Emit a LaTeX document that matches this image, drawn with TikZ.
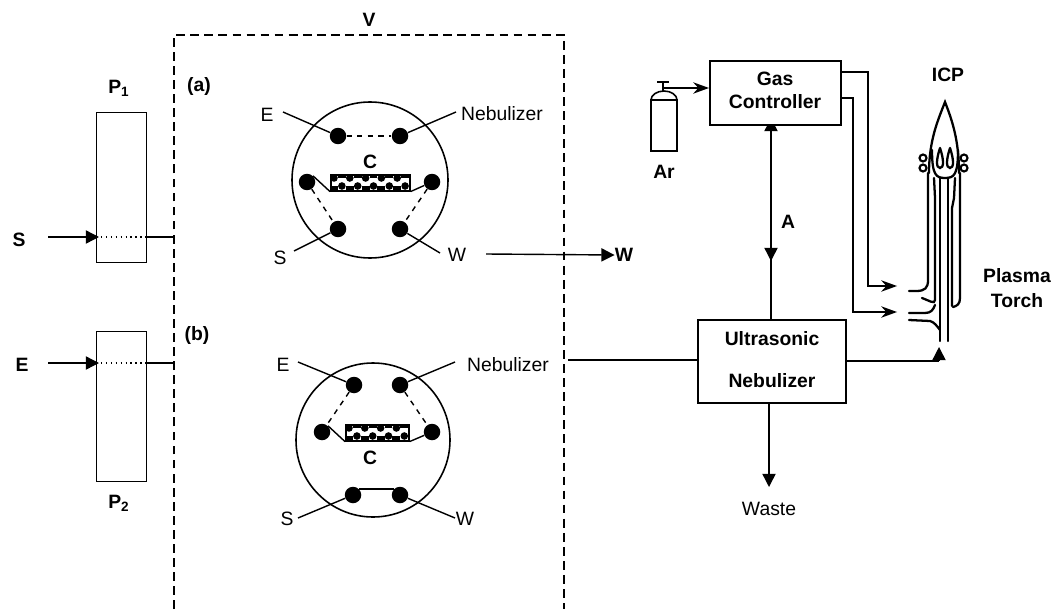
\documentclass[tikz,border=0pt]{standalone}
\usepackage{fontspec}
\setmainfont{Liberation Sans}
\usetikzlibrary{arrows.meta}
\tikzset{
  dot/.style={circle,fill=black,inner sep=0pt,minimum size=0.33cm},
  label/.style={font=\fontsize{11}{13}\selectfont,inner sep=0pt},
  boldlabel/.style={font=\fontsize{11}{13}\selectfont\bfseries,inner sep=0pt},
  box/.style={draw,line width=0.9pt,inner sep=0pt,anchor=north west},
  pipe/.style={line width=0.8pt},
  flow/.style={line width=0.8pt,-{Triangle[length=7.5pt,width=7.5pt]}},
  gasflow/.style={line width=0.8pt,-{Stealth[length=9pt,width=6.5pt]}},
  torch/.style={line width=1.3pt,line cap=round}
}
\begin{document}
\begin{tikzpicture}[x=0.02cm,y=-0.02cm]
  \useasboundingbox (0,0) rectangle (1060,611);

  % Valve
  \draw[dashed,line width=0.7pt,dash pattern=on 5pt off 3pt] (174,609) -- (174,35) -- (564,35) -- (564,609);
  \node[boldlabel] (V) at (369,20) {V};
  \node[boldlabel] (casea) at (199,87) {(a)};
  \node[boldlabel] (caseb) at (197,335) {(b)};

  % Pumps
  \node[box,line width=0.5pt,minimum width=50*0.02cm,minimum height=150*0.02cm] (P1) at (96,112) {};
  \node[box,line width=0.5pt,minimum width=50*0.02cm,minimum height=150*0.02cm] (P2) at (96,331) {};
  \node[boldlabel] (P1label) at (119,88) {P\textsubscript{1}};
  \node[boldlabel] (P2label) at (119,503) {P\textsubscript{2}};
  \node[boldlabel] (S) at (19,240) {S};
  \node[boldlabel] (E) at (22,365) {E};
  \coordinate (Sfree) at (48,237);
  \coordinate (Efree) at (48,363);
  \coordinate (Sout) at (174,237);
  \coordinate (Eout) at (174,363);
  \draw[flow] (Sfree) -- ([xshift=3*0.02cm]Sfree -| P1.west);
  \draw[flow] (Efree) -- ([xshift=3*0.02cm]Efree -| P2.west);
  \draw[dotted,pipe] (Sfree -| P1.west) -- (Sfree -| P1.east);
  \draw[dotted,pipe] (Efree -| P2.west) -- (Efree -| P2.east);
  \draw[pipe] (Sfree -| P1.east) -- (Sout);
  \draw[pipe] (Efree -| P2.east) -- (Eout);

  % Position (a)
  \draw[line width=0.9pt] (370,180) circle (78);
  \node[dot] (aE) at (338,136) {};
  \node[dot] (aN) at (400,136) {};
  \node[dot] (aL) at (307,182) {};
  \node[dot] (aR) at (432,182) {};
  \node[dot] (aS) at (338,229) {};
  \node[dot] (aW) at (400,229) {};
  \node[box,minimum width=79*0.02cm,minimum height=16*0.02cm] (acol) at (330,174) {};
  \foreach \i in {0,...,9} {
    \fill ({330+\i*7.9},{174+mod(\i+1,2)*12}) rectangle ++(7.9,4);
    \fill ({334+\i*7.9},{178+mod(\i,2)*8}) circle (3.8);
  }
  \node[boldlabel] (aC) at (370,162) {C};
  \node[label] (aElabel) at (267,115) {E};
  \node[label] (aNlabel) at (502,114) {Nebulizer};
  \node[label] (aSlabel) at (280,258) {S};
  \node[label] (aWlabel) at (457,255) {W};
  \coordinate (aEfree) at (283,112);
  \coordinate (aNfree) at (456,112);
  \coordinate (aSfree) at (294,251);
  \coordinate (aWfree) at (440,253);
  \draw[pipe] (aEfree) -- (aE);
  \draw[pipe] (aNfree) -- (aN);
  \draw[pipe] (aSfree) -- (aS);
  \draw[pipe] (aWfree) -- (aW);
  \draw[dashed,pipe] (aE) -- (aN);
  \draw[dashed,pipe] (aL) -- (aS);
  \draw[dashed,pipe] (aR) -- (aW);
  \draw[pipe] (aL.45) -- (acol.south west);
  \draw[pipe] (aR) -- (acol.south east);

  % Waste from (a)
  \coordinate (Wfree) at (486,254);
  \node[boldlabel] (Wlabel) at (624,255) {W};
  \draw[flow] (Wfree) -- (Wlabel.west);

  % Position (b)
  \draw[line width=0.9pt] (373,440) circle (77);
  \node[dot] (bE) at (354,385) {};
  \node[dot] (bN) at (400,385) {};
  \node[dot] (bL) at (322,432) {};
  \node[dot] (bR) at (432,432) {};
  \node[dot] (bS) at (353,495) {};
  \node[dot] (bW) at (400,495) {};
  \node[box,minimum width=63*0.02cm,minimum height=16*0.02cm] (bcol) at (345,424) {};
  \foreach \i in {0,...,7} {
    \fill ({345+\i*7.9},{424+mod(\i+1,2)*12}) rectangle ++(7.9,4);
    \fill ({349+\i*7.9},{428+mod(\i,2)*8}) circle (3.8);
  }
  \node[boldlabel] (bC) at (370,458) {C};
  \node[label] (bElabel) at (283,365) {E};
  \node[label] (bNlabel) at (508,365) {Nebulizer};
  \node[label] (bSlabel) at (287,519) {S};
  \node[label] (bWlabel) at (465,519) {W};
  \coordinate (bEfree) at (298,362);
  \coordinate (bNfree) at (455,362);
  \coordinate (bSfree) at (298,518);
  \coordinate (bWfree) at (455,518);
  \draw[pipe] (bEfree) -- (bE);
  \draw[pipe] (bNfree) -- (bN);
  \draw[pipe] (bSfree) -- (bS);
  \draw[pipe] (bWfree) -- (bW);
  \draw[dashed,pipe] (bE) -- (bL);
  \draw[dashed,pipe] (bN) -- (bR);
  \draw[pipe] (bS.45) -- (bW.135);
  \draw[pipe] (bL.45) -- (bcol.south west);
  \draw[pipe] (bR) -- (bcol.south east);

  % Nebulizer, A line goes under the controller box
  \node[box,minimum width=148*0.02cm,minimum height=83*0.02cm] (UN) at (697,319) {};
  \node[boldlabel] (UNlabela) at (772,339) {Ultrasonic};
  \node[boldlabel] (UNlabelb) at (772,381) {Nebulizer};
  \coordinate (Nebin) at (568,360);
  \draw[pipe] (Nebin) -- (UN.west |- Nebin);
  \coordinate (Atop) at (771,118);
  \coordinate (Amid) at (771,261);
  \draw[flow] (UN.north -| Atop) -- (Atop);
  \node[box,fill=white,minimum width=131*0.02cm,minimum height=64*0.02cm] (GC) at (709,60) {};
  \node[boldlabel] (GClabela) at (775,79) {Gas};
  \node[boldlabel] (GClabelb) at (775,102) {Controller};
  \draw[flow] (GC.south -| Amid) -- (Amid);
  \node[boldlabel] (A) at (788,222) {A};
  \node[label] (Waste) at (769,509) {Waste};
  \coordinate (Wasteend) at (769,487);
  \draw[flow] (UN.south -| Wasteend) -- (Wasteend);

  % Argon
  \draw[line width=0.9pt] (651,151) rectangle (677,100);
  \draw[line width=0.9pt] (651,100) arc (180:360:13 and 9);
  \draw[line width=0.9pt] (663,91) -- (663,82) (657,82) -- (669,82);
  \node[boldlabel] (Ar) at (664,172) {Ar};
  \coordinate (Arout) at (663,88);
  \draw[gasflow] (Arout) -- (GC.west |- Arout);

  % Gas lines to torch
  \coordinate (plasmaIn) at (897,286);
  \coordinate (auxIn) at (897,312);
  \draw[gasflow] (GC.east |- 0,72) -| (868,286) -- (plasmaIn);
  \draw[gasflow] (GC.east |- 0,98) -| (853,312) -- (auxIn);
  \coordinate (carrierIn) at (939,347);
  \draw[pipe] (UN.east |- 0,361) -- (939,361);
  \draw[flow] (939,361) -- (carrierIn);

  % Torch
  \draw[torch] (929,173) .. controls (929,140) and (938,120) .. (945,102) .. controls (952,120) and (959,140) .. (959,173);
  \draw[torch] (932,150) .. controls (932,175) and (936,178) .. (945,178) .. controls (954,178) and (958,175) .. (958,150);
  \draw[torch] (940,148) .. controls (936,160) and (936,168) .. (940,168) .. controls (944,168) and (944,160) .. (940,148);
  \draw[torch] (950,148) .. controls (946,160) and (946,168) .. (950,168) .. controls (954,168) and (954,160) .. (950,148);
  \foreach \y in {158,168} {
    \draw[line width=1.2pt] (923,\y) circle (3.5);
    \draw[line width=1.2pt] (964,\y) circle (3.5);
  }
  \draw[torch] (928,173) -- (928,280) .. controls (928,288) and (925,291) .. (916,291) -- (909,291);
  \draw[torch] (960,173) -- (960,298) .. controls (960,304) and (957,306) .. (953,307);
  \draw[torch] (934,178) -- (935,198) -- (935,300) .. controls (935,305) and (928,300) .. (922,298);
  \draw[torch] (955,178) -- (954,198) -- (952,208) -- (952,306);
  \draw[torch] (940,178) -- (940,341);
  \draw[torch] (948,178) -- (948,341);
  \draw[torch] (909,313) -- (925,313) .. controls (931,313) and (933,310) .. (935,305);
  \draw[torch] (909,320) -- (930,321) .. controls (934,322) and (937,326) .. (940,330);

  \node[boldlabel] (ICP) at (948,75) {ICP};
  \node[boldlabel] (PlasmaLabel) at (1017,276) {Plasma};
  \node[boldlabel] (TorchLabel) at (1017,301) {Torch};
\end{tikzpicture}
\end{document}
